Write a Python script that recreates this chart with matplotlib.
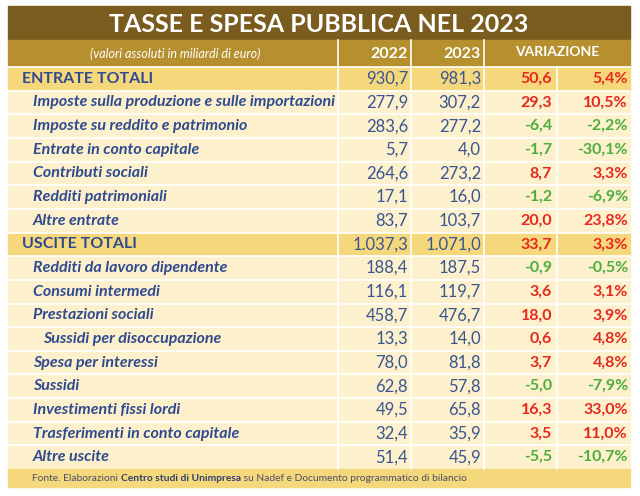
import matplotlib.pyplot as plt
from matplotlib.patches import Rectangle

# data
labels = ["ENTRATE TOTALI",
          "Imposte sulla produzione e sulle importazioni",
          "Imposte su reddito e patrimonio",
          "Entrate in conto capitale",
          "Contributi sociali",
          "Redditi patrimoniali",
          "Altre entrate",
          "USCITE TOTALI",
          "Redditi da lavoro dipendente",
          "Consumi intermedi",
          "Prestazioni sociali",
          "Sussidi per disoccupazione",
          "Spesa per interessi",
          "Sussidi",
          "Investimenti fissi lordi",
          "Trasferimenti in conto capitale",
          "Altre uscite"]
level = [0, 1, 1, 1, 1, 1, 1, 0, 1, 1, 1, 2, 1, 1, 1, 1, 1]
v2022 = [930.7, 277.9, 283.6, 5.7, 264.6, 17.1, 83.7,
         1037.3, 188.4, 116.1, 458.7, 13.3, 78.0, 62.8, 49.5, 32.4, 51.4]
v2023 = [981.3, 307.2, 277.2, 4.0, 273.2, 16.0, 103.7,
         1071.0, 187.5, 119.7, 476.7, 14.0, 81.8, 57.8, 65.8, 35.9, 45.9]
diff = [50.6, 29.3, -6.4, -1.7, 8.7, -1.2, 20.0,
        33.7, -0.9, 3.6, 18.0, 0.6, 3.7, -5.0, 16.3, 3.5, -5.5]
pct = [5.4, 10.5, -2.2, -30.1, 3.3, -6.9, 23.8,
       3.3, -0.5, 3.1, 3.9, 4.8, 4.8, -7.9, 33.0, 11.0, -10.7]

title = "TASSE E SPESA PUBBLICA NEL 2023"
subtitle = "(valori assoluti in miliardi di euro)"
years = ["2022", "2023"]


def it_fmt(v):
    s = "{:,.1f}".format(v)
    return s.replace(",", "X").replace(".", ",").replace("X", ".")


TITLE_BG = "#7a5c1f"
HEAD_BG = "#b68f2f"
TOT_BG = "#f6d87c"
ROW_BG = "#fcf0cd"
BLUE = "#2f4a8e"
NUM_BLUE = "#3a5592"
RED = "#e5281d"
GREEN = "#4dae3e"

plt.rcParams['font.family'] = ['Lato', 'DejaVu Sans']

fig = plt.figure(figsize=(6.4, 4.96), dpi=100)
ax = fig.add_axes([0, 0, 1, 1])
ax.set_xlim(0, 640)
ax.set_ylim(496, 0)
ax.axis('off')

L, R = 8, 630
cols = [L, 338, 411, 484, 557, R]
top_t, top_h, top_r = 6, 40, 67
rh = 23.65
n = len(labels)
bottom_rows = top_r + n * rh
foot_b = 487

# title band
ax.add_patch(Rectangle((L, top_t), R - L, top_h - top_t, color=TITLE_BG))
ax.text((L + R) / 2, (top_t + top_h) / 2 + 1, title, ha='center', va='center',
        color='white', fontsize=18, fontweight='bold')

# header
ax.add_patch(Rectangle((L, top_h), R - L, top_r - top_h, color=HEAD_BG))
hy = (top_h + top_r) / 2
ax.text((cols[0] + cols[1]) / 2 + 2, hy, subtitle, ha='center', va='center',
        color='white', fontsize=9, style='italic')
for j, yr in enumerate(years):
    ax.text(cols[j + 2] - 3, hy, yr, ha='right', va='center', color='white',
            fontsize=11.5, fontweight='bold')
ax.text((cols[3] + cols[5]) / 2, hy - 2, "VARIAZIONE", ha='center', va='center',
        color='white', fontsize=10, fontweight='bold')
for x in cols[1:4]:
    ax.plot([x, x], [top_h, top_r], color='white', lw=1.2)

# rows
for i, lab in enumerate(labels):
    y0 = top_r + i * rh
    yc = y0 + rh / 2
    bg = TOT_BG if level[i] == 0 else ROW_BG
    ax.add_patch(Rectangle((L, y0), R - L, rh, color=bg))
    if level[i] == 0:
        ax.text(22, yc, lab, ha='left', va='center', color=BLUE,
                fontsize=11.5, fontweight='bold')
    else:
        ax.text(33 if level[i] == 1 else 43, yc, lab, ha='left', va='center',
                color=BLUE, fontsize=11.5, fontweight='bold', style='italic')
    ax.text(cols[2] - 3, yc, it_fmt(v2022[i]), ha='right', va='center',
            color=NUM_BLUE, fontsize=12)
    ax.text(cols[3] - 3, yc, it_fmt(v2023[i]), ha='right', va='center',
            color=NUM_BLUE, fontsize=12)
    c = RED if diff[i] > 0 else GREEN
    ax.text(cols[4] - 5, yc, it_fmt(diff[i]), ha='right', va='center',
            color=c, fontsize=11.5, fontweight='bold')
    ax.text(cols[5] - 2, yc, it_fmt(pct[i]) + "%", ha='right', va='center',
            color=c, fontsize=11.5, fontweight='bold')
    ax.plot([L, R], [y0, y0], color='white', lw=1.2)

for x in cols[1:5]:
    ax.plot([x, x], [top_r, bottom_rows], color='white', lw=1.2)

# footer
ax.add_patch(Rectangle((L, bottom_rows), R - L, foot_b - bottom_rows, color=TOT_BG))
fy = (bottom_rows + foot_b) / 2
FOOT = "#4b4f6b"
t1 = ax.text(32, fy, "Fonte. Elaborazioni ", ha='left', va='center',
             color=FOOT, fontsize=7.4)
t2 = ax.annotate("Centro studi di Unimpresa", xy=(1, 0), xycoords=t1,
                 va='bottom', ha='left', color="#2f3f6e", fontsize=7.4,
                 fontweight='bold')
ax.annotate(" su Nadef e Documento programmatico di bilancio", xy=(1, 0),
            xycoords=t2, va='bottom', ha='left', color=FOOT, fontsize=7.4)

fig.savefig("out.png", dpi=100)
